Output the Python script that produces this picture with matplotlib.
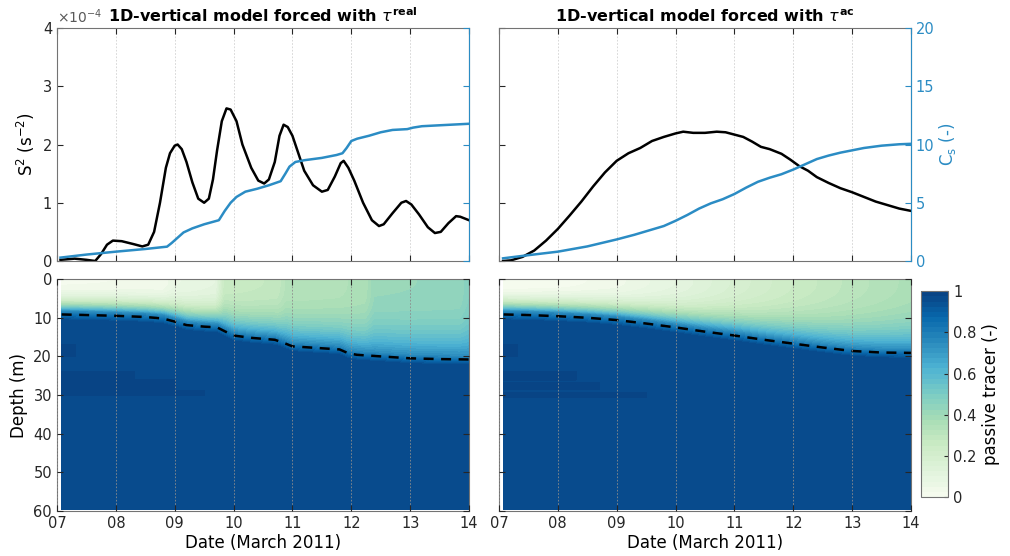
import numpy as np
import matplotlib.pyplot as plt
from matplotlib.ticker import FixedLocator, FuncFormatter

plt.rcParams['font.family'] = ['DejaVu Sans']
plt.rcParams['font.size'] = 10

# ---- top panels: shear squared (x 1e-4 s^-2) and Cs ----
s2_real_t = [7.06, 7.3, 7.5, 7.65, 7.75, 7.85, 7.95, 8.1, 8.3, 8.45, 8.55, 8.65, 8.75, 8.85,
             8.92, 9.0, 9.05, 9.12, 9.2, 9.3, 9.4, 9.5, 9.58, 9.65, 9.72, 9.8, 9.88, 9.95,
             10.05, 10.15, 10.3, 10.42, 10.52, 10.6, 10.7, 10.78, 10.85, 10.92, 11.0, 11.1,
             11.2, 11.35, 11.5, 11.6, 11.72, 11.82, 11.87, 11.95, 12.05, 12.2, 12.35, 12.47,
             12.55, 12.7, 12.85, 12.93, 13.02, 13.15, 13.3, 13.42, 13.52, 13.65, 13.78, 13.85,
             13.95, 14.0]
s2_real = [0.02, 0.04, 0.02, 0.0, 0.12, 0.28, 0.35, 0.34, 0.29, 0.25, 0.28, 0.5, 1.0, 1.6,
           1.85, 1.98, 2.0, 1.92, 1.7, 1.35, 1.07, 1.0, 1.07, 1.4, 1.9, 2.4, 2.62, 2.6,
           2.4, 2.0, 1.6, 1.38, 1.33, 1.4, 1.7, 2.15, 2.34, 2.3, 2.15, 1.85,
           1.55, 1.3, 1.19, 1.22, 1.45, 1.68, 1.72, 1.6, 1.38, 1.0, 0.7, 0.6,
           0.63, 0.82, 1.0, 1.03, 0.97, 0.8, 0.58, 0.48, 0.5, 0.65, 0.77, 0.76,
           0.72, 0.70]

cs_real_t = [7.06, 7.5, 8.0, 8.5, 8.87, 8.95, 9.05, 9.15, 9.3, 9.5, 9.75, 9.85, 9.95, 10.05,
             10.2, 10.4, 10.6, 10.8, 10.88, 10.95, 11.05, 11.2, 11.5, 11.75, 11.85, 11.92,
             12.0, 12.1, 12.3, 12.5, 12.7, 12.95, 13.05, 13.2, 13.5, 14.0]
cs_real = [0.29, 0.55, 0.8, 1.03, 1.23, 1.55, 2.0, 2.45, 2.8, 3.15, 3.5, 4.3, 5.0, 5.5,
           5.95, 6.2, 6.5, 6.85, 7.5, 8.1, 8.5, 8.65, 8.85, 9.1, 9.25, 9.7,
           10.3, 10.5, 10.75, 11.05, 11.25, 11.32, 11.45, 11.57, 11.65, 11.78]

s2_ac_t = [7.07, 7.2, 7.4, 7.6, 7.8, 8.0, 8.2, 8.4, 8.6, 8.8, 9.0, 9.2, 9.4, 9.6, 9.8, 10.0,
           10.13, 10.3, 10.5, 10.7, 10.85, 11.0, 11.15, 11.3, 11.45, 11.6, 11.8, 11.95, 12.1,
           12.25, 12.4, 12.6, 12.8, 13.0, 13.2, 13.4, 13.6, 13.8, 14.0]
s2_ac = [0.0, 0.01, 0.07, 0.18, 0.35, 0.55, 0.78, 1.02, 1.28, 1.52, 1.72, 1.85, 1.94, 2.06,
         2.13, 2.19, 2.22, 2.2, 2.2, 2.22, 2.21, 2.17, 2.13, 2.05, 1.96, 1.92, 1.84, 1.74,
         1.63, 1.55, 1.44, 1.34, 1.25, 1.18, 1.1, 1.02, 0.96, 0.9, 0.86]

cs_ac_t = [7.07, 7.5, 8.0, 8.5, 9.0, 9.3, 9.6, 9.8, 10.0, 10.2, 10.4, 10.6, 10.8, 11.0, 11.2,
           11.4, 11.6, 11.8, 12.0, 12.2, 12.4, 12.6, 12.8, 13.0, 13.2, 13.5, 13.8, 14.0]
cs_ac = [0.23, 0.5, 0.8, 1.25, 1.85, 2.25, 2.7, 3.0, 3.45, 3.95, 4.5, 4.95, 5.3, 5.75, 6.3,
         6.8, 7.15, 7.45, 7.85, 8.3, 8.75, 9.05, 9.3, 9.5, 9.7, 9.9, 10.02, 10.06]

# ---- bottom panels: mixed layer depth (dashed) and surface tracer ----
mld_real_t = [7.08, 7.5, 8.0, 8.5, 8.8, 9.0, 9.2, 9.5, 9.72, 9.85, 10.0, 10.3, 10.7, 10.85,
              11.0, 11.4, 11.8, 11.95, 12.1, 12.5, 13.0, 13.5, 14.0]
mld_real = [9.15, 9.3, 9.5, 9.8, 10.2, 11.0, 11.9, 12.3, 12.5, 13.5, 14.6, 15.2, 15.7, 16.5,
            17.4, 17.8, 18.2, 19.2, 19.6, 20.0, 20.5, 20.7, 20.8]
mld_ac_t = [7.08, 7.5, 8.0, 8.5, 9.0, 9.5, 10.0, 10.5, 11.0, 11.5, 12.0, 12.5, 13.0, 13.5, 14.0]
mld_ac = [9.15, 9.3, 9.6, 10.0, 10.6, 11.5, 12.5, 13.6, 14.6, 15.7, 16.7, 17.7, 18.6, 19.0, 19.1]

surf_real_t = [7.08, 8.8, 9.0, 9.7, 9.85, 10.75, 10.9, 11.8, 11.95, 12.25, 12.4, 13.85, 14.0]
surf_real = [0.02, 0.03, 0.07, 0.1, 0.26, 0.28, 0.33, 0.34, 0.35, 0.36, 0.42, 0.43, 0.47]
surf_ac_t = [7.08, 8.0, 9.0, 10.0, 11.0, 12.0, 13.0, 14.0]
surf_ac = [0.0, 0.01, 0.04, 0.1, 0.18, 0.25, 0.31, 0.36]

# darker patches in the deep layer: (top depth, bottom depth, end day)
patch_real = [(17, 20, 7.3), (24, 26, 8.3), (26, 29, 9.0), (29, 30, 9.5)]
patch_ac = [(17, 20, 7.3), (24, 26, 8.3), (27, 28.5, 8.7), (29.5, 30.5, 9.5)]

blue = '#2b8cc4'
gray = '0.45'
days = np.arange(7, 15)


def tracer_field(mld_t, mld, surf_t, surf, patches):
    t = np.arange(7.08, 14.001, 0.02)
    z = np.arange(0, 59.51, 0.25)
    T, Z = np.meshgrid(t, z)
    h = np.interp(t, mld_t, mld)[None, :]
    s0 = np.interp(t, surf_t, surf)[None, :]
    c = np.full(T.shape, 0.965)
    up = Z < h - 0.8
    frac = np.clip(Z / (h - 0.8), 0, 1)
    c = np.where(up, s0 + (0.75 - s0) * frac ** 3, c)
    band = (Z >= h - 0.8) & (Z < h + 1.5)
    c = np.where(band, 0.75 + 0.21 * (Z - h + 0.8) / 2.3, c)
    for ztop, zbot, tend in patches:
        c[(Z >= ztop) & (Z <= zbot) & (T <= tend)] = 0.99
    return t, z, c


def style_axes(ax, gcol):
    ax.set_xlim(7, 14)
    ax.xaxis.set_major_locator(FixedLocator(days))
    ax.xaxis.set_major_formatter(FuncFormatter(lambda v, p: '%02d' % v))
    ax.tick_params(direction='in', top=True, colors='0.15', labelsize=10.5, length=4)
    for s in ax.spines.values():
        s.set_color(gray)
    ax.grid(axis='x', linestyle=(0, (2, 2)), color=gcol, linewidth=0.6)


fig = plt.figure(figsize=(10.1, 5.56), dpi=100)
w = 0.408
ax_tl = fig.add_axes([0.0564, 0.5306, w, 0.419])
ax_tr = fig.add_axes([0.494, 0.5306, w, 0.419])
ax_bl = fig.add_axes([0.0564, 0.081, w, 0.417])
ax_br = fig.add_axes([0.494, 0.081, w, 0.417])
cax = fig.add_axes([0.912, 0.106, 0.027, 0.370])

titles = [r'1D-vertical model forced with $\tau^{\mathbf{real}}$',
          r'1D-vertical model forced with $\tau^{\mathbf{ac}}$']
for ax, st, sv, ct, cv, title in [(ax_tl, s2_real_t, s2_real, cs_real_t, cs_real, titles[0]),
                                   (ax_tr, s2_ac_t, s2_ac, cs_ac_t, cs_ac, titles[1])]:
    style_axes(ax, '0.82')
    ax.plot(st, sv, color='k', lw=1.8)
    ax.set_ylim(0, 4)
    ax.set_yticks([0, 1, 2, 3, 4])
    ax.tick_params(labelbottom=False, right=False)
    ax.set_title(title, fontsize=11.5, fontweight='bold', pad=4)
    ax2 = ax.twinx()
    ax2.plot(ct, cv, color=blue, lw=1.8)
    ax2.set_ylim(0, 20)
    ax2.set_yticks([0, 5, 10, 15, 20])
    ax2.tick_params(direction='in', colors=blue, labelsize=10.5, length=4)
    ax2.spines['right'].set_color(blue)
    for k in ['left', 'top', 'bottom']:
        ax2.spines[k].set_visible(False)
    if ax is ax_tl:
        ax2.tick_params(labelright=False)
    else:
        ax2.set_ylabel(r'C$_\mathrm{s}$ (-)', color=blue, fontsize=12, labelpad=2)

ax_tl.set_ylabel(r'S$^2$ (s$^{-2}$)', fontsize=12)
ax_tr.tick_params(labelleft=False)
ax_tl.text(0.0, 1.01, r'$\times10^{-4}$', transform=ax_tl.transAxes, fontsize=10,
           color='0.35', ha='left', va='bottom')

levels = np.linspace(0, 1, 41)
for ax, args, mt, mv in [(ax_bl, (mld_real_t, mld_real, surf_real_t, surf_real, patch_real), mld_real_t, mld_real),
                         (ax_br, (mld_ac_t, mld_ac, surf_ac_t, surf_ac, patch_ac), mld_ac_t, mld_ac)]:
    t, z, c = tracer_field(*args)
    cf = ax.contourf(t, z, c, levels=levels, cmap='GnBu', vmin=0, vmax=1)
    ax.plot(mt, mv, color='k', lw=1.8, ls=(0, (4, 3)))
    style_axes(ax, '0.55')
    ax.set_axisbelow(False)
    ax.set_ylim(60, 0)
    ax.set_yticks([0, 10, 20, 30, 40, 50, 60])
    ax.tick_params(right=True)
    ax.set_xlabel('Date (March 2011)', fontsize=12, labelpad=2)

ax_bl.set_ylabel('Depth (m)', fontsize=12)
ax_br.tick_params(labelleft=False)

cb = fig.colorbar(cf, cax=cax, ticks=[0, 0.2, 0.4, 0.6, 0.8, 1])
cb.ax.set_yticklabels(['0', '0.2', '0.4', '0.6', '0.8', '1'])
cb.ax.tick_params(direction='in', labelsize=10.5, colors='0.15', length=3)
cb.outline.set_edgecolor(gray)
cb.set_label('passive tracer (-)', fontsize=12)

fig.savefig('out.png', dpi=100)
